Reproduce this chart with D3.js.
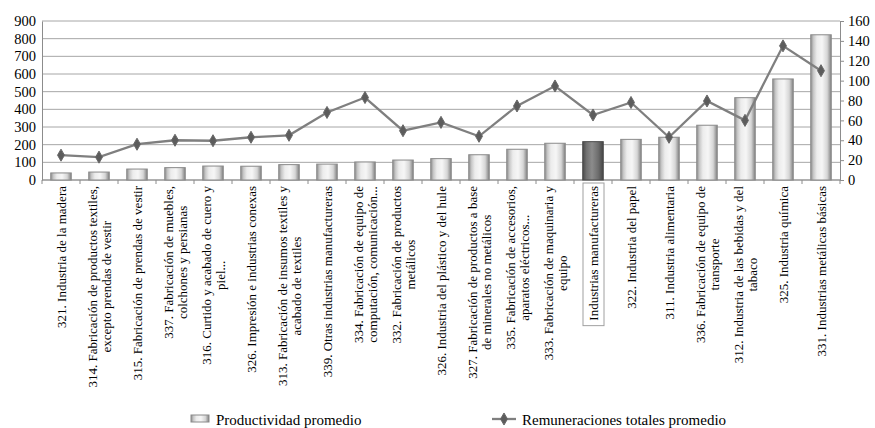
<!DOCTYPE html>
<html>
<head>
<meta charset="utf-8">
<script src="https://cdn.jsdelivr.net/npm/d3@7"></script>
<style>
  body { margin: 0; background: #fff; }
  svg, svg text { font-family: "Liberation Serif", Tinos, "Times New Roman", "DejaVu Serif", serif; }
</style>
</head>
<body>
<svg id="chart" width="875" height="428"></svg>
<script>
// Industry categories (line breaks split the axis labels)
const categories = [
  "321. Industria de la madera",
  "314. Fabricación de productos textiles,\nexcepto prendas de vestir",
  "315. Fabricación de prendas de vestir",
  "337. Fabricación de muebles,\ncolchones y persianas",
  "316. Curtido y acabado de cuero y\npiel...",
  "326. Impresión e industrias conexas",
  "313. Fabricación de insumos textiles y\nacabado de textiles",
  "339. Otras industrias manufactureras",
  "334. Fabricación de equipo de\ncomputación, comunicación...",
  "332. Fabricación de productos\nmetálicos",
  "326. Industria del plástico y del hule",
  "327. Fabricación de productos a base\nde minerales no metálicos",
  "335. Fabricación de accesorios,\naparatos eléctricos...",
  "333. Fabricación de maquinaria y\nequipo",
  "Industrias manufactureras",
  "322. Industria del papel",
  "311. Industria alimentaria",
  "336. Fabricación de equipo de\ntransporte",
  "312. Industria de las bebidas y del\ntabaco",
  "325. Industria química",
  "331. Industrias metálicas básicas"
];

// Productividad promedio (left axis)
const productividad = [40, 45, 62, 70, 79, 78, 87, 90, 102, 113, 121, 143, 174, 208, 217, 230, 242, 310, 466, 572, 822];

// Remuneraciones totales promedio (right axis)
const remuneraciones = [25, 23, 36, 40, 39.5, 43, 45, 68, 83, 49.6, 58, 44, 74.5, 94.6, 65.4, 78, 43, 79.5, 60, 135, 110];

const leftTicks = [0, 100, 200, 300, 400, 500, 600, 700, 800, 900];
const rightTicks = [0, 20, 40, 60, 80, 100, 120, 140, 160];

const totalLabel = "Industrias manufactureras";
const legendLabels = ["Productividad promedio", "Remuneraciones totales promedio"];

const FONT = '"Liberation Serif", Tinos, "Times New Roman", "DejaVu Serif", serif';

const svg = d3.select("#chart");
const plot = { left: 42, right: 840, top: 21, bottom: 180 };

const x = d3.scaleBand().domain(d3.range(categories.length))
  .range([plot.left, plot.right]).paddingInner(0.46).paddingOuter(0.23);
const yL = d3.scaleLinear().domain([0, 900]).range([plot.bottom, plot.top]);
const yR = d3.scaleLinear().domain([0, 160]).range([plot.bottom, plot.top]);

// Gradients for the shaded bars
const defs = svg.append("defs");
function barGradient(id, stops) {
  const g = defs.append("linearGradient").attr("id", id)
    .attr("x1", "0%").attr("x2", "100%").attr("y1", "0%").attr("y2", "0%");
  stops.forEach(([o, c]) => g.append("stop").attr("offset", o).attr("stop-color", c));
}
barGradient("barLight", [["0%", "#8e8e8e"], ["14%", "#c9c9c9"], ["30%", "#ececec"], ["55%", "#f6f6f6"], ["80%", "#d6d6d6"], ["100%", "#808080"]]);
barGradient("barDark", [["0%", "#4a4a4a"], ["18%", "#707070"], ["45%", "#8c8c8c"], ["75%", "#6e6e6e"], ["100%", "#454545"]]);

// Horizontal gridlines
svg.append("g").selectAll("line").data(leftTicks).join("line")
  .attr("x1", plot.left).attr("x2", plot.right)
  .attr("y1", d => yL(d)).attr("y2", d => yL(d))
  .attr("stroke", "#a6a6a6").attr("stroke-width", 1);

// Left axis
const axL = svg.append("g").attr("transform", `translate(${plot.left},0)`)
  .call(d3.axisLeft(yL).tickValues(leftTicks).tickSize(0).tickPadding(6));
axL.attr("font-family", FONT);
axL.select(".domain").attr("stroke", "#8c8c8c");
axL.selectAll("text").attr("font-size", 14.5).attr("fill", "#000").style("font-family", FONT);

// Right axis
const axR = svg.append("g").attr("transform", `translate(${plot.right},0)`)
  .call(d3.axisRight(yR).tickValues(rightTicks).tickSize(4).tickPadding(4));
axR.attr("font-family", FONT);
axR.select(".domain").attr("stroke", "#8c8c8c");
axR.selectAll("line").attr("stroke", "#8c8c8c");
axR.selectAll("text").attr("font-size", 14.5).attr("fill", "#000").style("font-family", FONT);

// Category axis line with ticks on band boundaries
const step = x.step();
svg.append("line").attr("x1", plot.left).attr("x2", plot.right)
  .attr("y1", plot.bottom).attr("y2", plot.bottom).attr("stroke", "#8c8c8c");
svg.append("g").selectAll("line").data(d3.range(categories.length + 1)).join("line")
  .attr("x1", i => plot.left + i * step).attr("x2", i => plot.left + i * step)
  .attr("y1", plot.bottom).attr("y2", plot.bottom + 4).attr("stroke", "#8c8c8c");

// Bars
svg.append("g").selectAll("rect").data(productividad).join("rect")
  .attr("x", (d, i) => x(i)).attr("width", x.bandwidth())
  .attr("y", d => yL(d)).attr("height", d => yL(0) - yL(d))
  .attr("fill", (d, i) => categories[i] === totalLabel ? "url(#barDark)" : "url(#barLight)")
  .attr("stroke", (d, i) => categories[i] === totalLabel ? "#4a4a4a" : "#8a8a8a")
  .attr("stroke-width", 1);

// Remuneraciones line
const line = d3.line().x((d, i) => x(i) + x.bandwidth() / 2).y(d => yR(d));
svg.append("path").datum(remuneraciones).attr("d", line)
  .attr("fill", "none").attr("stroke", "#7f7f7f").attr("stroke-width", 2.3);

const diamond = d3.symbol().type(d3.symbolDiamond).size(42);
svg.append("g").selectAll("path").data(remuneraciones).join("path")
  .attr("d", diamond)
  .attr("transform", (d, i) => `translate(${x(i) + x.bandwidth() / 2},${yR(d)})`)
  .attr("fill", "#5c5c5c").attr("stroke", "#6a6a6a").attr("stroke-width", 1);

// Rotated category labels, top-aligned below the axis
const labelTop = 186;
const lineGap = 14;
const labels = svg.append("g").style("font-family", FONT);
categories.forEach((c, i) => {
  const lines = c.split("\n");
  const cx = x(i) + x.bandwidth() / 2;
  const g = labels.append("g").attr("transform", `translate(${cx},${labelTop}) rotate(-90)`);
  const texts = lines.map((t, k) => g.append("text")
    .attr("font-size", 13).attr("fill", "#000")
    .style("font-family", FONT)
    .attr("text-anchor", "middle")
    .attr("y", (k - (lines.length - 1) / 2) * lineGap + 4.5)
    .text(t));
  const maxW = d3.max(texts, t => t.node().getComputedTextLength());
  texts.forEach(t => t.attr("x", -maxW / 2));
  if (c === totalLabel) {
    g.insert("rect", "text")
      .attr("x", -maxW - 5).attr("y", -10).attr("width", maxW + 8).attr("height", 21)
      .attr("fill", "#fff").attr("stroke", "#a0a0a0").attr("stroke-width", 1);
  }
});

// Legend
const legY = 420;
const leg = svg.append("g").style("font-family", FONT);
leg.append("rect").attr("x", 191).attr("y", legY - 5).attr("width", 18).attr("height", 7)
  .attr("fill", "url(#barLight)").attr("stroke", "#8a8a8a");
leg.append("text").attr("x", 216).attr("y", legY + 5).attr("font-size", 15)
  .style("font-family", FONT).text(legendLabels[0]);
leg.append("line").attr("x1", 492).attr("x2", 516).attr("y1", legY - 1).attr("y2", legY - 1)
  .attr("stroke", "#7f7f7f").attr("stroke-width", 2.3);
leg.append("path").attr("d", diamond).attr("transform", `translate(504,${legY - 1})`)
  .attr("fill", "#5c5c5c").attr("stroke", "#6a6a6a");
leg.append("text").attr("x", 522).attr("y", legY + 5).attr("font-size", 15)
  .style("font-family", FONT).text(legendLabels[1]);
</script>
</body>
</html>
